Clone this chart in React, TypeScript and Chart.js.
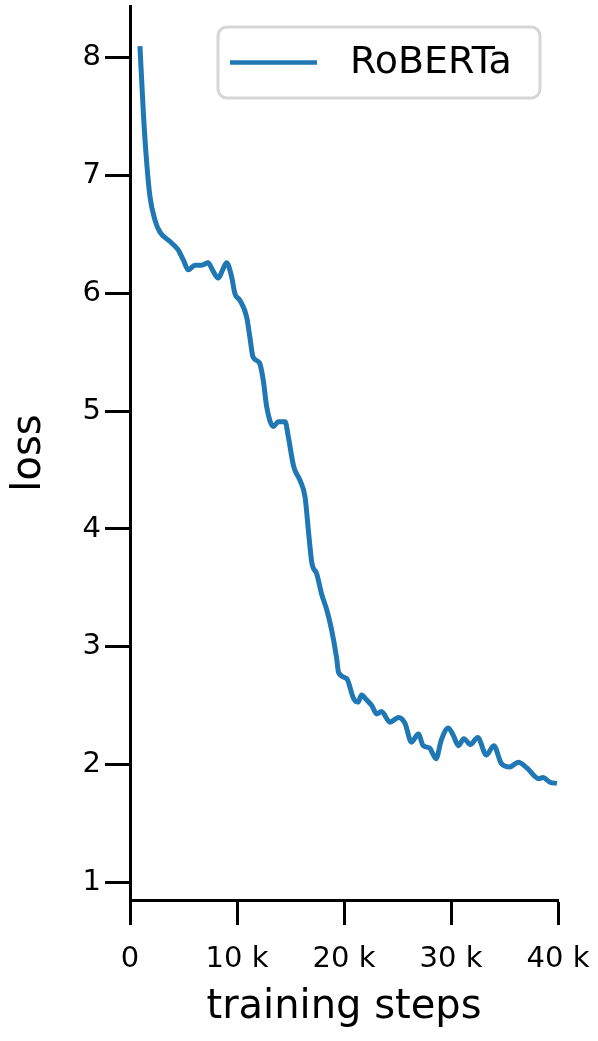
import React, { useEffect, useRef } from "react";
import { Chart, registerables } from "chart.js";

Chart.register(...registerables);

// training steps (in thousands)
const steps = [
  0.93, 1.25, 1.56, 1.87, 2.34, 2.8, 3.74, 4.5, 5.0, 5.45, 6.07, 6.7, 7.3, 7.7, 8.25, 8.66, 9.03, 9.5, 9.8,
  10.28, 10.9, 11.2, 11.5, 12.1, 12.46, 12.77, 13.4, 13.86, 14.5, 14.8, 15.3, 15.9, 16.36, 16.7, 17.0, 17.45,
  17.9, 18.4, 18.85, 19.3, 19.5, 20.25, 20.9, 21.3, 21.65, 22.1, 22.6, 23.05, 23.5, 24.3, 25.1, 25.7, 26.3,
  26.95, 27.4, 28.0, 28.6, 29.1, 29.75, 30.2, 30.7, 31.2, 31.8, 32.5, 33.3, 34.0, 34.7, 35.5, 36.3, 37.1,
  38.2, 38.6, 39.25, 39.9,
];
const loss = [
  8.1, 7.53, 7.11, 6.82, 6.62, 6.52, 6.44, 6.37, 6.28, 6.2, 6.24, 6.24, 6.26, 6.2, 6.13, 6.2, 6.26, 6.14, 6.0,
  5.94, 5.8, 5.63, 5.46, 5.41, 5.26, 5.04, 4.87, 4.91, 4.91, 4.78, 4.53, 4.41, 4.27, 3.96, 3.71, 3.62,
  3.45, 3.31, 3.14, 2.91, 2.78, 2.73, 2.56, 2.53, 2.59, 2.55, 2.5, 2.43, 2.45, 2.36, 2.4, 2.35, 2.19,
  2.26, 2.16, 2.14, 2.05, 2.21, 2.31, 2.25, 2.16, 2.22, 2.17, 2.23, 2.08, 2.16, 2.01, 1.98, 2.02, 1.97,
  1.88, 1.89, 1.85, 1.84,
];
const xTicks = [0, 10, 20, 30, 40];
const yTicks = [1, 2, 3, 4, 5, 6, 7, 8];
const seriesLabel = "RoBERTa";
const xTitle = "training steps";
const yTitle = "loss";

const FONT = "'DejaVu Sans', sans-serif";
const BLUE = "#1f77b4";

const legendBox = {
  id: "legendBox",
  afterDraw(chart: any) {
    const { ctx, chartArea } = chart;
    const right = chartArea.right - 18;
    const top = chartArea.top + 21;
    const w = 322;
    const h = 71;
    const left = right - w;
    ctx.save();
    ctx.beginPath();
    ctx.roundRect(left, top, w, h, 9);
    ctx.fillStyle = "rgba(255,255,255,0.8)";
    ctx.fill();
    ctx.lineWidth = 3;
    ctx.strokeStyle = "#d6d6d6";
    ctx.stroke();
    const cy = top + h / 2;
    ctx.beginPath();
    ctx.moveTo(left + 12, cy);
    ctx.lineTo(left + 99, cy);
    ctx.lineWidth = 4.5;
    ctx.strokeStyle = BLUE;
    ctx.stroke();
    ctx.fillStyle = "#000";
    ctx.font = `38px ${FONT}`;
    ctx.textBaseline = "middle";
    ctx.textAlign = "left";
    ctx.fillText(chart.data.datasets[0].label, left + 132, cy + 1);
    ctx.restore();
  },
};

export default function App() {
  const ref = useRef<HTMLCanvasElement>(null);
  useEffect(() => {
    if (!ref.current) return;
    const chart = new Chart(ref.current, {
      type: "line",
      data: {
        datasets: [
          {
            label: seriesLabel,
            data: steps.map((s, i) => ({ x: s, y: loss[i] })),
            borderColor: BLUE,
            borderWidth: 5,
            pointRadius: 0,
            tension: 0.3,
            cubicInterpolationMode: "monotone",
            fill: false,
          },
        ],
      },
      options: {
        animation: false,
        responsive: false,
        layout: { padding: { left: 0, right: 40, top: 6, bottom: 0 } },
        plugins: { legend: { display: false }, tooltip: { enabled: false } },
        scales: {
          x: {
            type: "linear",
            min: 0,
            max: 40,
            afterFit: (s: any) => {
              s.height = 141;
              s.paddingLeft = 0;
              s.paddingRight = 0;
            },
            afterBuildTicks: (s: any) => {
              s.ticks = xTicks.map((v) => ({ value: v }));
            },
            grid: {
              drawOnChartArea: false,
              drawTicks: true,
              tickLength: 25,
              tickWidth: 3,
              tickColor: "#000",
            },
            border: { display: true, color: "#000", width: 3 },
            ticks: {
              color: "#000",
              font: { family: FONT, size: 29 },
              padding: 17,
              maxRotation: 0,
              callback: (v: any) => (v === 0 ? "0" : `${v} k`),
            },
            title: {
              display: true,
              text: xTitle,
              color: "#000",
              font: { family: FONT, size: 40 },
              padding: { top: 4, bottom: 9 },
            },
          },
          y: {
            type: "linear",
            min: 0.85,
            max: 8.44,
            afterFit: (s: any) => {
              s.width = 130;
              s.paddingTop = 0;
              s.paddingBottom = 0;
            },
            afterBuildTicks: (s: any) => {
              s.ticks = yTicks.map((v) => ({ value: v }));
            },
            grid: {
              drawOnChartArea: false,
              drawTicks: true,
              tickLength: 25,
              tickWidth: 3,
              tickColor: "#000",
            },
            border: { display: true, color: "#000", width: 3 },
            ticks: {
              color: "#000",
              font: { family: FONT, size: 29 },
              padding: 4,
              callback: (v: any) => `${v}`,
            },
            title: {
              display: true,
              text: yTitle,
              color: "#000",
              font: { family: FONT, size: 40 },
              padding: { top: 6, bottom: 4 },
            },
          },
        },
      },
      plugins: [legendBox],
    });
    return () => chart.destroy();
  }, []);
  return (
    <div style={{ position: "fixed", left: 0, top: 0, width: 598, height: 1041, background: "#fff" }}>
      <canvas ref={ref} width={598} height={1041} style={{ width: 598, height: 1041 }} />
    </div>
  );
}
